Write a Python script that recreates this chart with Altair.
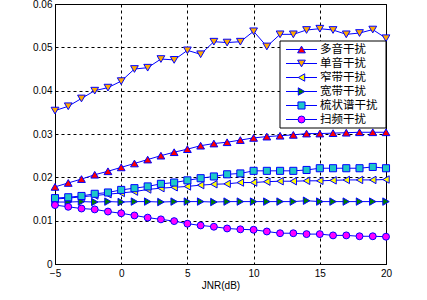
import altair as alt
import pandas as pd

jnr = list(range(-5, 21))
series_names = ["多音干扰", "单音干扰", "窄带干扰", "宽带干扰", "梳状谱干扰", "扫频干扰"]

multi_tone = [0.0178, 0.0187, 0.0196, 0.0206, 0.0214, 0.0223, 0.0232, 0.0241, 0.0250, 0.0258,
              0.0265, 0.0273, 0.0278, 0.0281, 0.0286, 0.0291, 0.0294, 0.0296, 0.0298, 0.0301,
              0.0301, 0.0302, 0.0303, 0.0304, 0.0304, 0.0304]
single_tone = [0.0354, 0.0364, 0.0382, 0.0400, 0.0407, 0.0422, 0.0450, 0.0453, 0.0473, 0.0471,
               0.0493, 0.0484, 0.0513, 0.0511, 0.0513, 0.0537, 0.0502, 0.0530, 0.0530, 0.0540,
               0.0543, 0.0540, 0.0530, 0.0533, 0.0541, 0.0521]
narrow_band = [0.0150, 0.0152, 0.0155, 0.0158, 0.0161, 0.0164, 0.0167, 0.0172, 0.0175, 0.0177,
               0.0179, 0.0182, 0.0184, 0.0185, 0.0188, 0.0188, 0.0190, 0.0191, 0.0191, 0.0192,
               0.0192, 0.0193, 0.0194, 0.0194, 0.0194, 0.0195]
wide_band = [0.0143, 0.0143, 0.0144, 0.0143, 0.0144, 0.0143, 0.0144, 0.0144, 0.0143, 0.0144,
             0.0144, 0.0144, 0.0143, 0.0144, 0.0144, 0.0144, 0.0144, 0.0144, 0.0144, 0.0146,
             0.0144, 0.0144, 0.0144, 0.0144, 0.0144, 0.0144]
comb = [0.0152, 0.0154, 0.0157, 0.0162, 0.0165, 0.0171, 0.0175, 0.0179, 0.0185, 0.0188,
        0.0193, 0.0198, 0.0202, 0.0207, 0.0209, 0.0215, 0.0215, 0.0215, 0.0215, 0.0217,
        0.0221, 0.0221, 0.0221, 0.0221, 0.0224, 0.0221]
sweep = [0.0136, 0.0132, 0.0128, 0.0126, 0.0121, 0.0117, 0.0112, 0.0107, 0.0103, 0.0099,
         0.0093, 0.0089, 0.0086, 0.0082, 0.0080, 0.0079, 0.0075, 0.0071, 0.0071, 0.0069,
         0.0069, 0.0066, 0.0066, 0.0064, 0.0064, 0.0063]

x_ticks = [-5, 0, 5, 10, 15, 20]
y_ticks = [0, 0.01, 0.02, 0.03, 0.04, 0.05, 0.06]

all_values = [multi_tone, single_tone, narrow_band, wide_band, comb, sweep]
shapes = ["triangle-up", "triangle-down", "triangle-left", "triangle-right", "square", "circle"]
fills = ["#FF0000", "#FFAA00", "#FFFF00", "#007F00", "#1EC8C8", "#FF00FF"]
sizes = [60, 60, 55, 55, 50, 48]

LINE = "#0000FF"

x_enc = alt.X("jnr:Q", scale=alt.Scale(domain=[-5, 20], nice=False),
              axis=alt.Axis(values=x_ticks, title="JNR(dB)", grid=True, labelFlush=False))
y_enc = alt.Y("value:Q", scale=alt.Scale(domain=[0, 0.06], nice=False),
              axis=alt.Axis(values=y_ticks, title=None, grid=True, labelFlush=False,
                            labelExpr="datum.value == 0 ? '0' : format(datum.value, '.2f')"))

layers = []
for name, vals, shp, fc, sz in zip(series_names, all_values, shapes, fills, sizes):
    df = pd.DataFrame({"jnr": jnr, "value": vals, "series": name})
    base = alt.Chart(df)
    layers.append(base.mark_line(color=LINE, strokeWidth=1).encode(x=x_enc, y=y_enc))
    layers.append(base.mark_point(shape=shp, fill=fc, filled=True, stroke=LINE,
                                  strokeWidth=1, size=sz, opacity=1).encode(x=x_enc, y=y_enc))

# legend box
leg_box = alt.Chart(pd.DataFrame({"a": [0]})).mark_rect(
    fill="white", stroke="black", strokeWidth=1
).encode(x=alt.value(225), x2=alt.value(331), y=alt.value(37), y2=alt.value(124))
layers.append(leg_box)

leg_df = pd.DataFrame({"series": series_names, "idx": list(range(len(series_names)))})
leg_base = alt.Chart(leg_df).transform_calculate(py="45.5 + 14 * datum.idx")
layers.append(leg_base.mark_rule(color=LINE, strokeWidth=1).encode(
    x=alt.value(231), x2=alt.value(262), y=alt.Y("py:Q", scale=None)))
for i, (name, shp, fc, sz) in enumerate(zip(series_names, shapes, fills, sizes)):
    layers.append(
        alt.Chart(leg_df).transform_filter(alt.datum.idx == i)
        .transform_calculate(py="45.5 + 14 * datum.idx")
        .mark_point(shape=shp, fill=fc, filled=True, stroke=LINE, strokeWidth=1, size=sz, opacity=1)
        .encode(x=alt.value(246.5), y=alt.Y("py:Q", scale=None))
    )
layers.append(leg_base.mark_text(align="left", baseline="middle", font="Noto Sans CJK SC",
                                 fontSize=11.5, color="black").encode(
    x=alt.value(265), y=alt.Y("py:Q", scale=None), text="series:N"))

chart = alt.layer(*layers).properties(
    width=331, height=260,
    autosize=alt.AutoSizeParams(type="none"),
    padding={"left": 55, "top": 4, "right": 41, "bottom": 36},
    background="white",
).configure_view(
    stroke="black", strokeWidth=1
).configure_axis(
    gridColor="black", gridDash=[3, 3], gridWidth=1, gridOpacity=1,
    domainColor="black", domainWidth=1,
    tickSize=0, labelFont="Liberation Sans", labelFontSize=10, labelColor="black",
    titleFont="Liberation Sans", titleFontSize=10, titleFontWeight="normal", titleColor="black",
).configure_axisX(
    labelPadding=4, titlePadding=2
).configure_axisY(
    labelPadding=3
)

chart.save("out.html", embed_options={"renderer": "svg", "actions": False})
